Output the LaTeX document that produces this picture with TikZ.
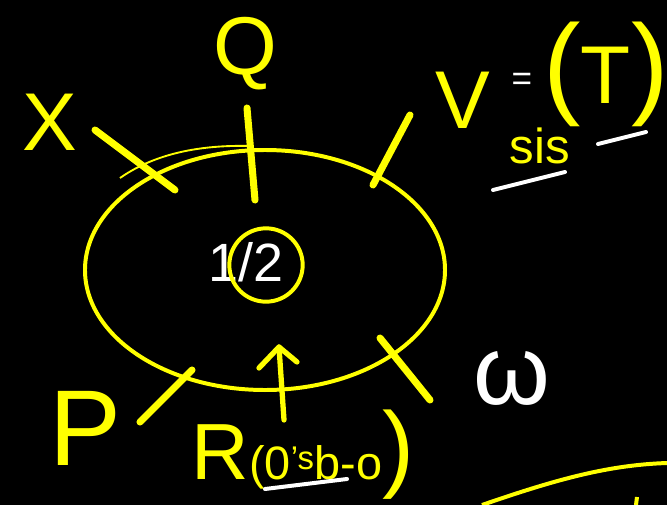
\documentclass[tikz,border=0pt]{standalone}
\usepackage{fontspec}
\setsansfont{Liberation Sans}
\usetikzlibrary{calc, positioning, arrows.meta}
\definecolor{color_board}{HTML}{000000}
\definecolor{color_marker}{HTML}{FFFF00}
\definecolor{color_chalk}{HTML}{FFFFFF}
\tikzset{
  board_blob/.style={draw=color_marker, line width=3.4pt},
  bond_stroke/.style={draw=color_marker, line width=6pt, line cap=round},
  arrow_stroke/.style={draw=color_marker, line width=4.5pt, line cap=round, line join=round},
  chalk_stroke/.style={draw=color_chalk, line width=3.4pt, line cap=round},
  marker_label/.style={font=\sffamily, text=color_marker, inner sep=0pt},
  chalk_label/.style={font=\sffamily, text=color_chalk, inner sep=0pt},
}
\newcommand{\fsz}[1]{\fontsize{#1}{#1}\selectfont}

\begin{document}
\begin{tikzpicture}[x=0.03cm, y=-0.03cm]
    \fill[color_board] (0,0) rectangle (667,505);
    \useasboundingbox (0,0) rectangle (667,505);
    % the complex
    \draw[board_blob] (265,270) ellipse [x radius=5.4cm, y radius=3.6cm];
    \draw[board_blob, line width=1.6pt] (120,178) .. controls (160,150) and (210,145) .. (250,146);
    \node[chalk_label, font=\sffamily\fsz{46}] (frac) at (246,262) {1/2};
    \draw[board_blob] (266,265) ellipse [x radius=1.1cm, y radius=1.1cm];
    % ligands
    \node[marker_label, font=\sffamily\fsz{70}] (lig_x) at (50,122) {X};
    \node[marker_label, font=\sffamily\fsz{70}] (lig_q) at (245,54) {Q};
    \node[marker_label, font=\sffamily\fsz{92}] (lig_p) at (85,428) {P};
    \node[marker_label] (lig_r) at (303,455)
      {{\fsz{68}R}{\fsz{40}(0\textsuperscript{'s}b-o}{\fsz{82})}};
    \node[chalk_label, font=\sffamily\fsz{84}] (lig_w) at (512,378) {ω};
    \coordinate (bx_out) at (95,130);  \coordinate (bx_in) at (175,190);
    \coordinate (bq_out) at (247,108); \coordinate (bq_in) at (255,200);
    \coordinate (bt_out) at (410,115); \coordinate (bt_in) at (373,185);
    \coordinate (bw_in) at (380,338);  \coordinate (bw_out) at (430,400);
    \coordinate (bp_in) at (192,370);  \coordinate (bp_out) at (140,422);
    \draw[bond_stroke] (bx_out) -- (bx_in);
    \draw[bond_stroke] (bq_out) -- (bq_in);
    \draw[bond_stroke] (bt_out) -- (bt_in);
    \draw[bond_stroke] (bw_in) -- (bw_out);
    \draw[bond_stroke] (bp_in) -- (bp_out);
    \coordinate (br_out) at (284,420); \coordinate (br_in) at (279,347);
    \draw[arrow_stroke] (br_out) -- (br_in);
    \draw[arrow_stroke] (259,368) -- (br_in) -- (297,362);
    % V_sis = (T)
    \node[marker_label, font=\sffamily\fsz{70}] (v_main) at (463,100) {V};
    \node[chalk_label, font=\sffamily\fsz{30}] (v_eq) at (522,82) {=};
    \node[marker_label, font=\sffamily\fsz{42}] (v_sub) at (540,146) {sis};
    \node[marker_label] (v_t) at (606,74)
      {{\fsz{96}(}{\fsz{70}T}{\fsz{96})}};
    \draw[chalk_stroke] (493,190) -- (565,172);
    \draw[chalk_stroke] (598,144) -- (646,132);
    \draw[chalk_stroke] (265,489) -- (347,479);
    % bottom edge
    \draw[board_blob] (482,505) .. controls (560,478) and (610,465) .. (667,463);
    \draw[board_blob] (637,497) -- (636,505);
\end{tikzpicture}
\end{document}
